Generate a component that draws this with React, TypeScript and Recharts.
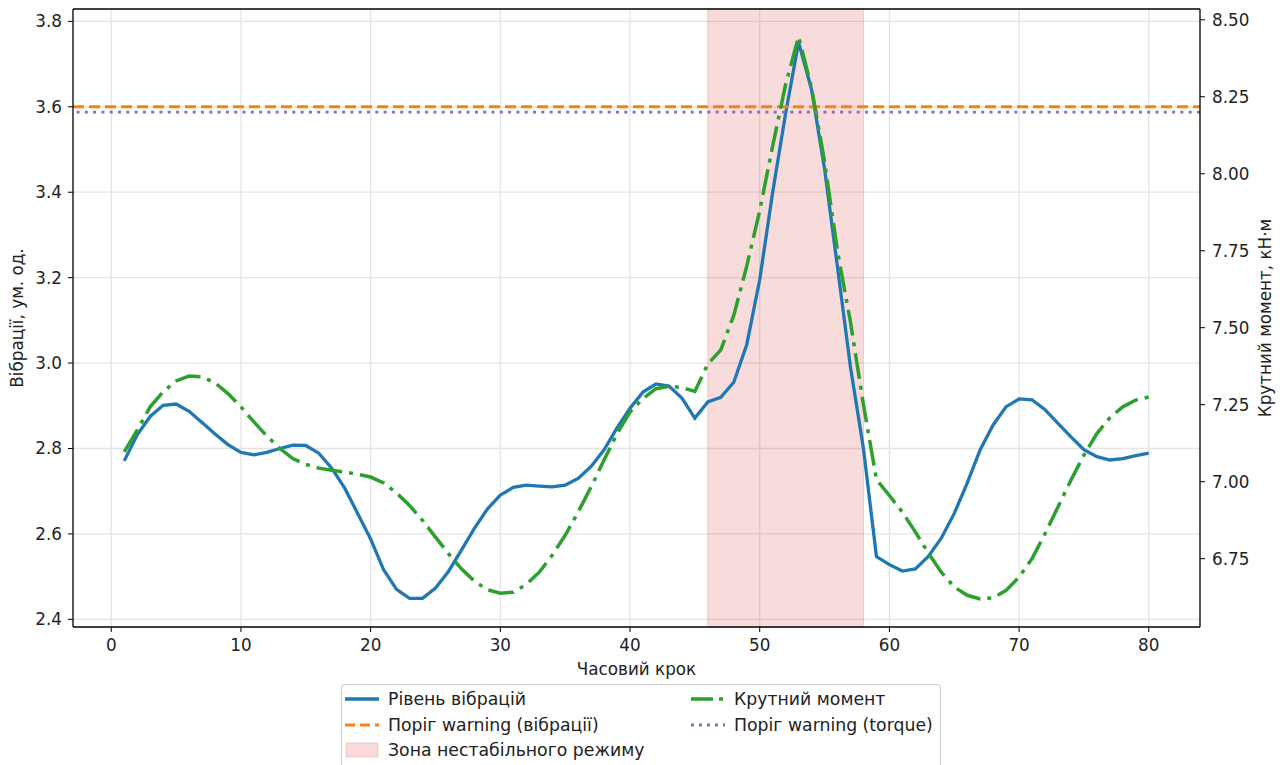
import React from "react";
import { ComposedChart, Line, XAxis, YAxis, CartesianGrid, ReferenceLine, ReferenceArea } from "recharts";

// часові кроки 1..80
const STEPS = Array.from({ length: 80 }, (_, i) => i + 1);

// рівень вібрацій, ум. од.
const VIBRATION = [
  2.771, 2.832, 2.875, 2.901, 2.904, 2.887, 2.861, 2.834, 2.809, 2.791,
  2.785, 2.791, 2.800, 2.808, 2.807, 2.789, 2.754, 2.707, 2.648, 2.588,
  2.516, 2.470, 2.449, 2.449, 2.473, 2.512, 2.562, 2.613, 2.658, 2.691,
  2.709, 2.714, 2.712, 2.710, 2.714, 2.730, 2.758, 2.797, 2.848, 2.894,
  2.932, 2.951, 2.946, 2.918, 2.871, 2.909, 2.920, 2.955, 3.043, 3.195,
  3.400, 3.585, 3.751, 3.640, 3.455, 3.224, 2.990, 2.800, 2.547, 2.528,
  2.513, 2.518, 2.547, 2.590, 2.648, 2.719, 2.797, 2.855, 2.898, 2.916,
  2.914, 2.891, 2.859, 2.827, 2.797, 2.781, 2.773, 2.776, 2.783, 2.789,
];

// крутний момент, кН·м
const TORQUE = [
  7.097, 7.167, 7.243, 7.292, 7.327, 7.343, 7.340, 7.321, 7.286, 7.243,
  7.194, 7.148, 7.108, 7.075, 7.056, 7.044, 7.037, 7.031, 7.024, 7.015,
  6.996, 6.963, 6.923, 6.874, 6.820, 6.766, 6.717, 6.677, 6.649, 6.638,
  6.641, 6.666, 6.706, 6.761, 6.826, 6.901, 6.983, 7.070, 7.156, 7.226,
  7.270, 7.302, 7.310, 7.306, 7.293, 7.382, 7.428, 7.540, 7.700, 7.880,
  8.090, 8.290, 8.445, 8.279, 8.040, 7.748, 7.518, 7.250, 7.007, 6.955,
  6.901, 6.837, 6.768, 6.706, 6.658, 6.631, 6.619, 6.623, 6.647, 6.690,
  6.750, 6.831, 6.918, 7.005, 7.086, 7.156, 7.208, 7.243, 7.265, 7.275,
];

const VIB_THRESHOLD = 3.6;
const TORQUE_THRESHOLD = 8.2;
const UNSTABLE_ZONE = [46, 58];

const X_TICKS = [0, 10, 20, 30, 40, 50, 60, 70, 80];
const VIB_TICKS = [2.4, 2.6, 2.8, 3.0, 3.2, 3.4, 3.6, 3.8];
const TORQUE_TICKS = [6.75, 7.0, 7.25, 7.5, 7.75, 8.0, 8.25, 8.5];

const X_DOMAIN = [-2.95, 83.95];
const VIB_DOMAIN = [2.382, 3.829];
const TORQUE_DOMAIN = [6.528, 8.535];

const FONT = "'DejaVu Sans', Verdana, sans-serif";
const tickStyle = { fontSize: 16.8, fill: "#222", fontFamily: FONT };

const data = STEPS.map((step, i) => ({ step, vibration: VIBRATION[i], torque: TORQUE[i] }));

function AxisTitle(props: any) {
  const { viewBox, text, side } = props;
  const vb = viewBox || { x: 0, y: 0, width: 0, height: 0 };
  if (side === "bottom") {
    const cx = vb.x + vb.width / 2;
    return (
      <text x={cx} y={vb.y + 42} textAnchor="middle" dominantBaseline="central" fontSize={16.8} fill="#222" fontFamily={FONT}>
        {text}
      </text>
    );
  }
  const cx = side === "left" ? vb.x + 9 : vb.x + 65;
  const cy = vb.y + vb.height / 2;
  return (
    <text x={cx} y={cy} transform={`rotate(-90 ${cx} ${cy})`} textAnchor="middle" dominantBaseline="central" fontSize={16.8} fill="#222" fontFamily={FONT}>
      {text}
    </text>
  );
}

function LegendItem({ kind, label, left, top }: { kind: string; label: string; left: number; top: number }) {
  let handle: React.ReactNode = null;
  if (kind === "vib") handle = <line x1={0} y1={8} x2={34} y2={8} stroke="#1f77b4" strokeWidth={3.3} />;
  if (kind === "torque") handle = <line x1={0} y1={8} x2={34} y2={8} stroke="#2ca02c" strokeWidth={3.5} strokeDasharray="22 6 4 6" />;
  if (kind === "vibThr") handle = <line x1={0} y1={8} x2={34} y2={8} stroke="#ff7f0e" strokeWidth={3} strokeDasharray="10 5" />;
  if (kind === "torqueThr") handle = <line x1={0} y1={8} x2={34} y2={8} stroke="#9467bd" strokeWidth={2.8} strokeDasharray="3 5" />;
  if (kind === "zone")
    handle = <rect x={1} y={1} width={32} height={14} fill="#d62728" fillOpacity={0.16} stroke="#d62728" strokeOpacity={0.2} />;
  return (
    <div style={{ position: "absolute", left, top: top - 13, height: 26, display: "flex", alignItems: "center" }}>
      <svg width={34} height={16} style={{ marginRight: 9, flex: "none" }}>
        {handle}
      </svg>
      <span style={{ fontSize: 17.3, color: "#222", fontFamily: FONT, whiteSpace: "nowrap" }}>{label}</span>
    </div>
  );
}

export default function App() {
  return (
    <div style={{ position: "absolute", left: 0, top: 0, width: 1285, height: 765, overflow: "hidden", background: "#fff" }}>
      <ComposedChart width={1285} height={765} data={data} margin={{ top: 9, right: 25, bottom: 88, left: 8 }} style={{ fontFamily: FONT }}>
        <CartesianGrid yAxisId="left" stroke="#e4e4e4" strokeWidth={1.3} horizontalValues={VIB_TICKS} verticalValues={X_TICKS} />
        <ReferenceArea
          yAxisId="left"
          x1={UNSTABLE_ZONE[0]}
          x2={UNSTABLE_ZONE[1]}
          fill="#d62728"
          fillOpacity={0.16}
          stroke="#d62728"
          strokeOpacity={0.2}
        />
        <XAxis
          dataKey="step"
          type="number"
          domain={X_DOMAIN}
          ticks={X_TICKS}
          allowDataOverflow
          height={50}
          tickSize={5}
          tickMargin={7}
          tick={tickStyle}
          stroke="#000"
          tickLine={{ stroke: "#000" }}
          axisLine={{ stroke: "#000", strokeWidth: 1.3 }}
          label={{ content: (p: any) => <AxisTitle {...p} side="bottom" text="Часовий крок" /> }}
        />
        <YAxis
          yAxisId="left"
          type="number"
          domain={VIB_DOMAIN}
          ticks={VIB_TICKS}
          allowDataOverflow
          width={65}
          tickSize={5}
          tickMargin={6}
          tick={tickStyle}
          tickFormatter={(v: number) => v.toFixed(1)}
          tickLine={{ stroke: "#000" }}
          axisLine={{ stroke: "#000", strokeWidth: 1.3 }}
          label={{ content: (p: any) => <AxisTitle {...p} side="left" text="Вібрації, ум. од." /> }}
        />
        <YAxis
          yAxisId="right"
          orientation="right"
          type="number"
          domain={TORQUE_DOMAIN}
          ticks={TORQUE_TICKS}
          allowDataOverflow
          width={60}
          tickSize={5}
          tickMargin={7}
          tick={tickStyle}
          tickFormatter={(v: number) => v.toFixed(2)}
          tickLine={{ stroke: "#000" }}
          axisLine={{ stroke: "#000", strokeWidth: 1.3 }}
          label={{ content: (p: any) => <AxisTitle {...p} side="right" text="Крутний момент, кН·м" /> }}
        />
        <ReferenceLine yAxisId="left" y={VIB_DOMAIN[1]} stroke="#000" strokeWidth={1.3} />
        <Line
          yAxisId="left"
          type="linear"
          dataKey="vibration"
          stroke="#1f77b4"
          strokeWidth={3.3}
          dot={false}
          activeDot={false}
          isAnimationActive={false}
        />
        <ReferenceLine yAxisId="left" y={VIB_THRESHOLD} stroke="#ff7f0e" strokeWidth={3} strokeDasharray="11 5" />
        <Line
          yAxisId="right"
          type="linear"
          dataKey="torque"
          stroke="#2ca02c"
          strokeWidth={3.5}
          strokeDasharray="26 7 4 7"
          dot={false}
          activeDot={false}
          isAnimationActive={false}
        />
        <ReferenceLine yAxisId="right" y={TORQUE_THRESHOLD} stroke="#9467bd" strokeWidth={2.8} strokeDasharray="3 5.3" />
      </ComposedChart>
      <div
        style={{
          position: "absolute",
          left: 341,
          top: 684,
          width: 600,
          height: 100,
          border: "1px solid #cccccc",
          borderRadius: 4,
          background: "rgba(255,255,255,0.8)",
          boxSizing: "border-box",
        }}
      >
        <LegendItem kind="vib" label="Рівень вібрацій" left={3} top={14} />
        <LegendItem kind="torque" label="Крутний момент" left={349} top={14} />
        <LegendItem kind="vibThr" label="Поріг warning (вібрації)" left={3} top={39.5} />
        <LegendItem kind="torqueThr" label="Поріг warning (torque)" left={349} top={39.5} />
        <LegendItem kind="zone" label="Зона нестабільного режиму" left={3} top={65} />
      </div>
    </div>
  );
}
